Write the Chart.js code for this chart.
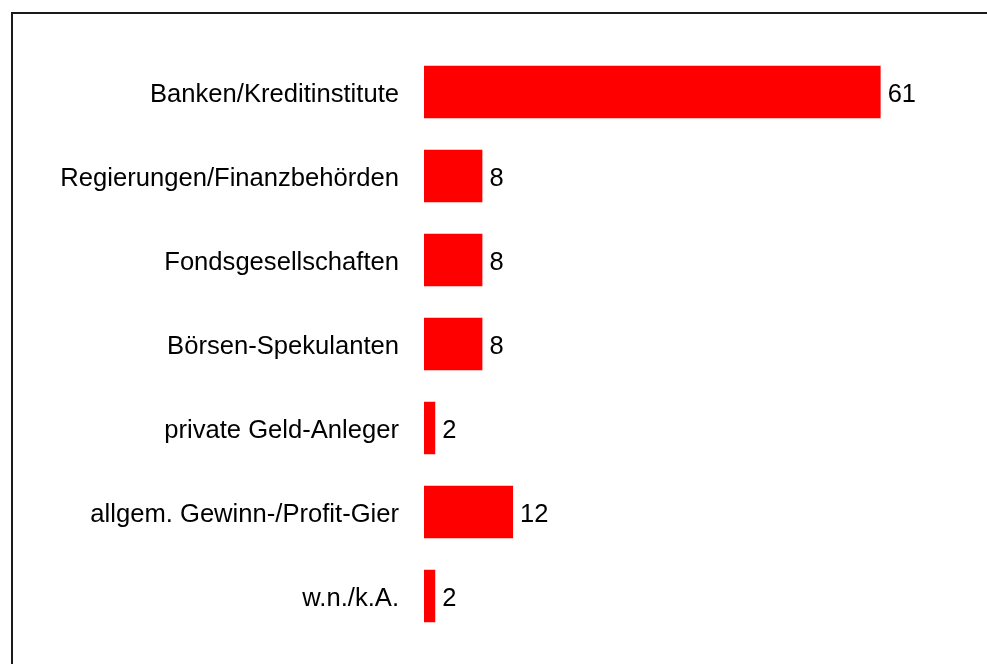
<!DOCTYPE html>
<html>
<head>
<meta charset="utf-8">
<script src="https://cdn.jsdelivr.net/npm/chart.js@4/dist/chart.umd.min.js"></script>
<style>
  html, body { margin: 0; padding: 0; background: #ffffff; overflow: hidden; }
  #wrap { position: relative; width: 987px; height: 664px; }
  canvas { display: block; }
</style>
</head>
<body>
<div id="wrap"><canvas id="c" width="987" height="664"></canvas></div>
<script>
const categories = [
  "Banken/Kreditinstitute",
  "Regierungen/Finanzbehörden",
  "Fondsgesellschaften",
  "Börsen-Spekulanten",
  "private Geld-Anleger",
  "allgem. Gewinn-/Profit-Gier",
  "w.n./k.A."
];
const values = [61, 7.8, 7.8, 7.8, 1.5, 11.9, 1.5];
const valueLabels = ["61", "8", "8", "8", "2", "12", "2"];

const FONT = "'Liberation Sans', Arial, sans-serif";

const frame = {
  id: 'frame',
  beforeDraw(chart) {
    const ctx = chart.ctx;
    ctx.save();
    ctx.strokeStyle = '#1a1a1a';
    ctx.lineWidth = 2;
    ctx.beginPath();
    ctx.moveTo(12, 700);
    ctx.lineTo(12, 13);
    ctx.lineTo(1000, 13);
    ctx.stroke();
    ctx.restore();
  }
};

const valueText = {
  id: 'valueText',
  afterDatasetsDraw(chart) {
    const ctx = chart.ctx;
    const meta = chart.getDatasetMeta(0);
    ctx.save();
    ctx.fillStyle = '#000000';
    ctx.font = '25.5px ' + FONT;
    ctx.textAlign = 'left';
    ctx.textBaseline = 'middle';
    meta.data.forEach((bar, i) => {
      ctx.fillText(valueLabels[i], bar.x + 7, bar.y + 2.5);
    });
    ctx.restore();
  }
};

new Chart(document.getElementById('c'), {
  type: 'bar',
  data: {
    labels: categories,
    datasets: [{
      data: values,
      backgroundColor: '#ff0000',
      borderWidth: 0,
      categoryPercentage: 1,
      barPercentage: 0.625
    }]
  },
  options: {
    indexAxis: 'y',
    responsive: false,
    animation: false,
    layout: { padding: { top: 50, bottom: 26, right: 39, left: 0 } },
    plugins: { legend: { display: false }, tooltip: { enabled: false } },
    scales: {
      x: {
        display: false,
        min: 0,
        max: 70
      },
      y: {
        grid: { display: false, drawTicks: false },
        border: { display: false },
        ticks: {
          color: '#000000',
          font: { family: FONT, size: 25.6 },
          padding: 25,
          labelOffset: 3
        },
        afterFit(scale) {
          scale.width = 424;
          scale.paddingTop = 0;
          scale.paddingBottom = 0;
        }
      }
    }
  },
  plugins: [frame, valueText]
});
</script>
</body>
</html>
